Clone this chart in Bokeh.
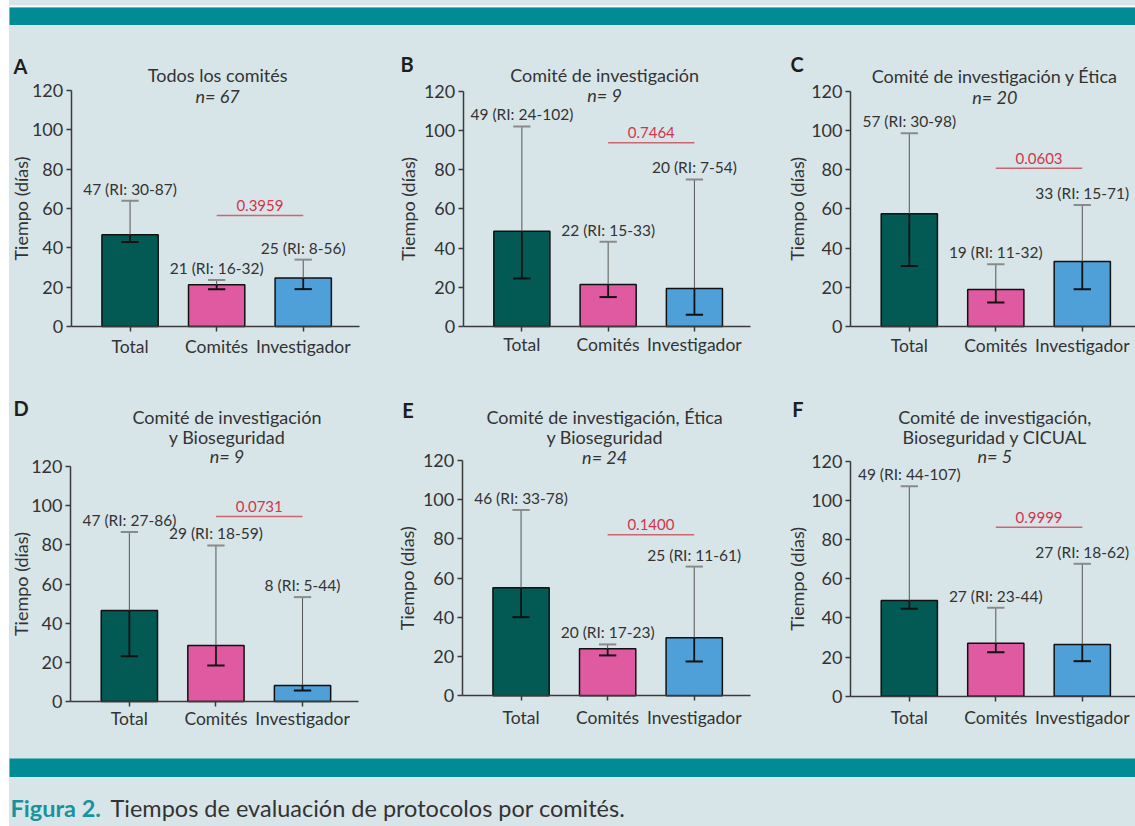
import math
from bokeh.plotting import figure
from bokeh.layouts import column, row
from bokeh.models import FixedTicker, Label, ColumnDataSource, Range1d
from bokeh.embed import file_html
from bokeh.resources import INLINE
from bokeh.core.properties import value

# ---------------- data ----------------
categories = ["Total", "Comités", "Investigador"]
y_ticks = [0, 20, 40, 60, 80, 100, 120]

panel_letters = ["A", "B", "C", "D", "E", "F"]
panel_titles = [
    ["Todos los comités"],
    ["Comité de investigación"],
    ["Comité de investigación y Ética"],
    ["Comité de investigación", "y Bioseguridad"],
    ["Comité de investigación, Ética", "y Bioseguridad"],
    ["Comité de investigación,", "Bioseguridad y CICUAL"],
]
panel_n = [67, 9, 20, 9, 24, 5]

medians_A = [46.6, 21.2, 24.6]
medians_B = [48.6, 21.4, 19.4]
medians_C = [57.5, 18.9, 33.1]
medians_D = [46.5, 28.6, 8.2]
medians_E = [55.1, 24.0, 29.6]
medians_F = [48.9, 27.1, 26.4]

err_low_A = [43.0, 19.0, 19.0]
err_low_B = [24.5, 15.0, 6.0]
err_low_C = [30.8, 12.2, 19.0]
err_low_D = [23.1, 18.4, 5.6]
err_low_E = [40.1, 20.6, 17.5]
err_low_F = [44.7, 22.5, 17.9]

err_high_A = [64.0, 23.7, 34.0]
err_high_B = [102.0, 43.2, 75.0]
err_high_C = [98.6, 31.8, 61.9]
err_high_D = [86.5, 79.7, 53.3]
err_high_E = [94.8, 26.2, 65.9]
err_high_F = [107.4, 45.2, 67.7]

labels_A = ["47 (RI: 30-87)", "21 (RI: 16-32)", "25 (RI: 8-56)"]
labels_B = ["49 (RI: 24-102)", "22 (RI: 15-33)", "20 (RI: 7-54)"]
labels_C = ["57 (RI: 30-98)", "19 (RI: 11-32)", "33 (RI: 15-71)"]
labels_D = ["47 (RI: 27-86)", "29 (RI: 18-59)", "8 (RI: 5-44)"]
labels_E = ["46 (RI: 33-78)", "20 (RI: 17-23)", "25 (RI: 11-61)"]
labels_F = ["49 (RI: 44-107)", "27 (RI: 23-44)", "27 (RI: 18-62)"]

p_values = ["0.3959", "0.7464", "0.0603", "0.0731", "0.1400", "0.9999"]
p_line_y = [56.4, 93.7, 80.7, 94.5, 82.1, 86.4]

caption_bold = "Figura 2."
caption_text = "Tiempos de evaluación de protocolos por comités."

medians = [medians_A, medians_B, medians_C, medians_D, medians_E, medians_F]
err_low = [err_low_A, err_low_B, err_low_C, err_low_D, err_low_E, err_low_F]
err_high = [err_high_A, err_high_B, err_high_C, err_high_D, err_high_E, err_high_F]
value_labels = [labels_A, labels_B, labels_C, labels_D, labels_E, labels_F]

# ---------------- style / layout ----------------
BG = "#d8e5e8"
TEAL = "#008b95"
CAP_TEAL = "#17939d"
BAR_COLORS = ["#035a55", "#e05aa2", "#4f9fd9"]
TXT = "#333333"
AXIS = "#3a3a3a"
RED = "#d2344a"
RED_LINE = "#c9666f"
FONT = "Lato"
XR = (-0.68, 2.65)
YR = (0, 120)
BAR_W = 0.65
CAP_HW = 0.1

# figure boxes (left, top, width, height) in page pixels
fig_box = [
    (9, 25, 383, 360), (392, 25, 388, 360), (780, 25, 355, 360),
    (9, 385, 383, 373), (392, 385, 388, 373), (780, 385, 355, 373),
]
# plotting box (x of XR start, x of XR end, y of 120, y of 0) in page pixels
plot_box = [
    (70.7, 359.0, 90.0, 326.0), (462.7, 750.0, 90.7, 326.0), (850.0, 1138.0, 90.7, 326.0),
    (70.0, 358.3, 466.0, 701.0), (461.7, 750.0, 460.0, 695.3), (850.0, 1138.0, 461.0, 695.7),
]
title_off = [[15.5], [16.7], [15.7], [49.3, 30.0], [43.3, 23.3], [44.3, 24.3]]
title_dx = [1.0, -3.5, -1.0, 11.0, -3.0, -1.0]
n_off = [-5.0, -3.3, -6.0, 11.0, 3.3, 6.0]
letter_dx = [-57.7, -62.7, -60.0, -57.0, -60.0, -58.3]
letter_dy = [25.0, 27.4, 27.4, 58.5, 51.0, 52.7]
ylab_dx = [-50.7, -55.7, -53.3, -50.0, -55.0, -53.3]
xlab_standoff = [4, 2, 3, 1, 6, 6]


def make_panel(i):
    fl, ft, fw, fh = fig_box[i]
    xl, xr, yt, yb = plot_box[i]
    ppx = (xr - xl) / (XR[1] - XR[0])
    ppy = (yb - yt) / (YR[1] - YR[0])
    x0 = XR[0] - (xl - fl) / ppx
    y0 = YR[0] - (ft + fh - yb) / ppy
    p = figure(width=fw, height=fh,
               x_range=Range1d(x0, x0 + fw / ppx), y_range=Range1d(y0, y0 + fh / ppy),
               output_backend="svg", toolbar_location=None, min_border=0,
               background_fill_color=BG, border_fill_color=BG,
               outline_line_color=None)
    p.grid.visible = False

    xs = list(range(len(categories)))
    med = medians[i]
    lo = err_low[i]
    hi = err_high[i]
    src = ColumnDataSource(dict(
        x=xs, top=med, lo=lo, hi=hi,
        in_top=[min(a, b) for a, b in zip(hi, med)],
        out_bot=[max(a, b) for a, b in zip(lo, med)],
        cap_l=[x - CAP_HW for x in xs], cap_r=[x + CAP_HW for x in xs],
        color=BAR_COLORS, label=value_labels[i]))

    p.vbar(x="x", top="top", width=BAR_W, source=src, fill_color="color",
           line_color="#111111", line_width=1.5)
    p.segment(x0="x", y0="lo", x1="x", y1="in_top", source=src,
              line_color="#111111", line_width=1.8)
    p.segment(x0="x", y0="out_bot", x1="x", y1="hi", source=src,
              line_color="#555555", line_width=1.0)
    p.segment(x0="cap_l", y0="lo", x1="cap_r", y1="lo", source=src,
              line_color="#111111", line_width=2)
    p.segment(x0="cap_l", y0="hi", x1="cap_r", y1="hi", source=src,
              line_color="#8a8a8a", line_width=2)
    p.text(x="x", y="hi", text="label", source=src, y_offset=-12,
           text_align="center", text_baseline="middle",
           text_font=value(FONT), text_font_size="15.5px", text_color=TXT)

    p.segment(x0=[1], y0=[p_line_y[i]], x1=[2], y1=[p_line_y[i]],
              line_color=RED_LINE, line_width=1.5)
    p.text(x=[1.5], y=[p_line_y[i]], text=[p_values[i]], y_offset=-10,
           text_align="center", text_baseline="middle",
           text_font=value(FONT), text_font_size="15px", text_color=RED)

    for ax in (p.xaxis, p.yaxis):
        ax.axis_line_color = AXIS
        ax.axis_line_width = 1.5
        ax.major_tick_line_color = AXIS
        ax.major_tick_line_width = 1.5
        ax.major_tick_in = 0
        ax.major_tick_out = 5
        ax.minor_tick_line_color = None
        ax.major_label_text_font = FONT
        ax.major_label_text_color = TXT
    p.xaxis.fixed_location = YR[0]
    p.xaxis.bounds = XR
    p.xaxis.ticker = FixedTicker(ticks=xs)
    p.xaxis.major_label_overrides = {x: c for x, c in zip(xs, categories)}
    p.xaxis.major_label_text_font_size = "17.5px"
    p.xaxis.major_label_standoff = xlab_standoff[i]
    p.yaxis.fixed_location = XR[0]
    p.yaxis.bounds = YR
    p.yaxis.ticker = FixedTicker(ticks=y_ticks)
    p.yaxis.major_label_text_font_size = "18px"
    p.yaxis.major_label_standoff = 3

    for line, off in zip(panel_titles[i], title_off[i]):
        p.add_layout(Label(x=1, y=YR[1], x_offset=title_dx[i], y_offset=off, text=line,
                           text_align="center", text_baseline="middle",
                           text_font=FONT, text_font_size="18px", text_color=TXT))
    p.add_layout(Label(x=1, y=YR[1], x_offset=title_dx[i], y_offset=n_off[i],
                       text="n= %d" % panel_n[i],
                       text_align="center", text_baseline="middle",
                       text_font=FONT, text_font_size="18px",
                       text_font_style="italic", text_color=TXT))
    p.add_layout(Label(x=XR[0], y=YR[1], x_offset=letter_dx[i], y_offset=letter_dy[i],
                       text=panel_letters[i], text_align="left", text_baseline="middle",
                       text_font=FONT, text_font_size="20px", text_font_style="bold",
                       text_color="#1e1e1e"))
    p.add_layout(Label(x=XR[0], y=60, x_offset=ylab_dx[i], angle=math.pi / 2,
                       text="Tiempo (días)", text_align="center", text_baseline="middle",
                       text_font=FONT, text_font_size="18px", text_color=TXT))
    return p


def band(w, h, color):
    b = figure(width=w, height=h, x_range=(0, 1), y_range=(0, 1),
               output_backend="svg", toolbar_location=None,
               x_axis_type=None, y_axis_type=None, min_border=0,
               background_fill_color=color, border_fill_color=color,
               outline_line_color=None)
    b.grid.visible = False
    return b


left_white = band(9, 826, "#ffffff")
top_white = band(1126, 7, "#ffffff")
top_band = band(1126, 18, TEAL)
bottom_band = band(1126, 19, TEAL)

cap = figure(width=1126, height=49, x_range=Range1d(0, 1126), y_range=Range1d(0, 49),
             output_backend="svg", toolbar_location=None,
             x_axis_type=None, y_axis_type=None, min_border=0,
             background_fill_color=BG, border_fill_color=BG, outline_line_color=None)
cap.grid.visible = False
cap.text(x=[1], y=[19], text=[caption_bold], text_align="left",
         text_baseline="middle", text_font=value(FONT), text_font_size="23.5px",
         text_font_style="bold", text_color=CAP_TEAL)
cap.text(x=[101], y=[19], text=[caption_text], text_align="left",
         text_baseline="middle", text_font=value(FONT), text_font_size="23.5px",
         text_color=TXT)

panels = [make_panel(i) for i in range(6)]
bg_style = {"background-color": BG}
layout = row(left_white,
             column(top_white, top_band,
                    row(*panels[:3], styles=bg_style),
                    row(*panels[3:], styles=bg_style),
                    bottom_band, cap, styles=bg_style),
             styles={"background-color": "#ffffff"})

open("out.html", "w").write(file_html(layout, INLINE))
